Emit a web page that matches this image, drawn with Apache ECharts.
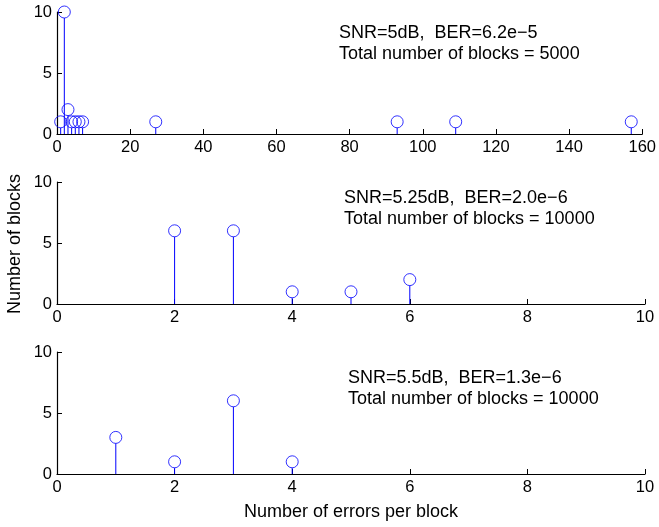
<!DOCTYPE html>
<html><head><meta charset="utf-8">
<script src="https://cdn.jsdelivr.net/npm/echarts@6/dist/echarts.min.js"></script>
<style>html,body{margin:0;padding:0;background:#fff}#c{width:659px;height:527px}</style>
</head><body><div id="c"></div>
<script>
// Panel 1: SNR=5dB
const errors1 = [1, 2, 3, 4, 5, 6, 7, 27, 93, 109, 157];
const counts1 = [1, 10, 2, 1, 1, 1, 1, 1, 1, 1, 1];
// Panel 2: SNR=5.25dB
const errors2 = [2, 3, 4, 5, 6];
const counts2 = [6, 6, 1, 1, 2];
// Panel 3: SNR=5.5dB
const errors3 = [1, 2, 3, 4];
const counts3 = [3, 1, 6, 1];
const xMax = [160, 10, 10];
const xInterval = [20, 2, 2];
const yTicks = [0, 5, 10];
const notes = [
  ['SNR=5dB,  BER=6.2e\u22125', 'Total number of blocks = 5000'],
  ['SNR=5.25dB,  BER=2.0e\u22126', 'Total number of blocks = 10000'],
  ['SNR=5.5dB,  BER=1.3e\u22126', 'Total number of blocks = 10000']
];
const yLabel = 'Number of blocks';
const xLabel = 'Number of errors per block';

const FONT = 'Liberation Sans, Arial, Helvetica, sans-serif';
const BLUE = '#0000ff';
const MARK = 12;
const tops = [12, 182, 352];
const H = 122;
const datasets = [[errors1, counts1], [errors2, counts2], [errors3, counts3]];

const grid = [], xAxis = [], yAxis = [], series = [], graphic = [];
datasets.forEach((d, i) => {
  grid.push({left: 57, right: 14, top: tops[i], height: H});
  xAxis.push({
    type: 'value', gridIndex: i, min: 0, max: xMax[i], interval: xInterval[i],
    axisLine: {lineStyle: {color: '#000', width: 1.2}},
    axisTick: {inside: true, length: 5, lineStyle: {color: '#000'}},
    axisLabel: {color: '#000', fontSize: 16.5, fontFamily: FONT, margin: 5},
    splitLine: {show: false}
  });
  yAxis.push({
    type: 'value', gridIndex: i, min: 0, max: 10, interval: 5,
    axisLine: {show: true, lineStyle: {color: '#000', width: 1.2}},
    axisTick: {show: true, inside: true, length: 5, lineStyle: {color: '#000'}},
    axisLabel: {color: '#000', fontSize: 16.5, fontFamily: FONT, margin: 5},
    splitLine: {show: false}
  });
  const pts = d[0].map((x, k) => [x, d[1][k]]);
  series.push({
    type: 'custom', xAxisIndex: i, yAxisIndex: i, data: pts, z: 2,
    renderItem: function (params, api) {
      const p0 = api.coord([api.value(0), 0]);
      const p1 = api.coord([api.value(0), api.value(1)]);
      return {type: 'line', shape: {x1: p0[0], y1: p0[1], x2: p1[0], y2: p1[1] + MARK / 2},
        style: {stroke: BLUE, lineWidth: 1}};
    }
  });
  series.push({
    type: 'scatter', xAxisIndex: i, yAxisIndex: i, data: pts, z: 3,
    symbol: 'circle', symbolSize: MARK,
    itemStyle: {color: 'rgba(255,255,255,0)', borderColor: BLUE, borderWidth: 1}
  });
  graphic.push({type: 'text', x: [339, 344, 348][i], y: [23, 188, 368][i],
    style: {text: notes[i][0] + '\n' + notes[i][1], font: '18px ' + FONT, fill: '#000', lineHeight: 21}});
});
graphic.push({type: 'text', x: 15, y: 244, rotation: Math.PI / 2,
  style: {text: yLabel, font: '18px ' + FONT, fill: '#000', textAlign: 'center', textVerticalAlign: 'middle'}});
graphic.push({type: 'text', x: 351, y: 512,
  style: {text: xLabel, font: '18px ' + FONT, fill: '#000', textAlign: 'center', textVerticalAlign: 'middle'}});

const chart = echarts.init(document.getElementById('c'), null, {renderer: 'canvas'});
chart.setOption({animation: false, backgroundColor: '#fff', grid, xAxis, yAxis, series, graphic});
</script></body></html>
